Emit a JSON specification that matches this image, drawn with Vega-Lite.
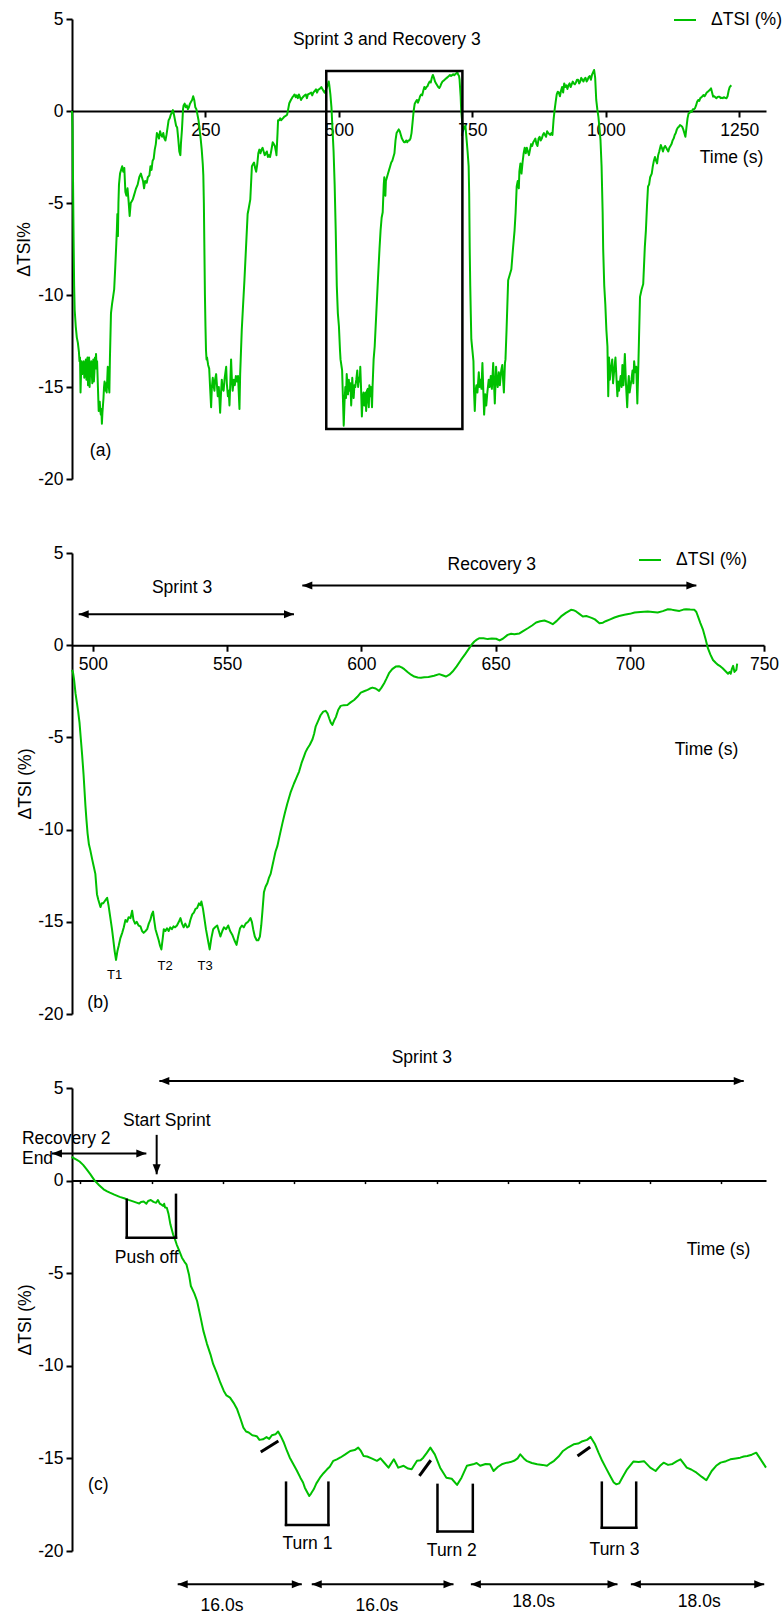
{
"$schema": "https://vega.github.io/schema/vega-lite/v6.json",
"background": "white",
"padding": {"left": 15, "top": 8, "right": 5, "bottom": 5},
"bounds": "flush",
"spacing": 74,
"config": {
  "font": "Liberation Sans",
  "view": {"stroke": null},
  "axis": {"labelFont": "Liberation Sans", "labelFontSize": 17.5, "labelColor": "black", "titleFont": "Liberation Sans", "titleFontSize": 17.5, "titleFontWeight": "normal", "titleColor": "black", "domainColor": "black", "domainWidth": 2, "tickColor": "black", "tickWidth": 2, "tickSize": 6, "labelPadding": 3, "grid": false, "labelOverlap": false, "labelFlush": false},
  "axisX": {"labelPadding": 4},
  "legend": {"labelFont": "Liberation Sans", "labelFontSize": 17.5, "labelColor": "black", "symbolType": "stroke", "symbolSize": 484, "symbolStrokeWidth": 2, "labelOffset": 14, "padding": 0, "labelLimit": 300},
  "text": {"font": "Liberation Sans", "fontSize": 17.5, "fill": "black"}
},
"resolve": {"scale": {"x": "independent", "y": "independent", "color": "independent"}, "legend": {"color": "independent"}},
"datasets": {
"lineA": [
{"t":0,"v":0},{"t":1,"v":-1},{"t":2,"v":-4},{"t":3,"v":-7},{"t":4,"v":-9.5},{"t":5,"v":-10.8},{"t":7,"v":-11.7},{"t":9,"v":-12.3},{"t":11,"v":-12.6},{"t":13,"v":-13.1},{"t":14,"v":-13.6},{"t":15,"v":-13.4},{"t":16,"v":-15.3},{"t":17,"v":-14.2},{"t":18,"v":-13.6},{"t":19,"v":-14.3},{"t":20,"v":-13.8},{"t":21,"v":-14.0},{"t":22,"v":-13.6},{"t":23,"v":-14.5},{"t":24,"v":-13.7},{"t":25,"v":-14.3},{"t":26,"v":-13.5},{"t":27,"v":-14.6},{"t":28,"v":-13.8},{"t":29,"v":-13.4},{"t":30,"v":-14.9},{"t":31,"v":-14.0},{"t":32,"v":-13.4},{"t":33,"v":-15.0},{"t":34,"v":-14.1},{"t":35,"v":-14.4},{"t":36,"v":-13.6},{"t":37,"v":-14.2},{"t":38,"v":-14.8},{"t":39,"v":-13.8},{"t":40,"v":-13.5},{"t":41,"v":-14.7},{"t":42,"v":-14.2},{"t":43,"v":-13.4},{"t":44,"v":-14.0},{"t":45,"v":-13.2},{"t":46,"v":-13.9},{"t":47,"v":-13.6},{"t":48,"v":-14.5},{"t":49,"v":-15.4},{"t":50,"v":-16.3},{"t":51,"v":-15.9},{"t":52,"v":-15.8},{"t":53,"v":-16.3},{"t":54,"v":-16.5},{"t":55,"v":-16.2},{"t":56,"v":-17.0},{"t":57,"v":-16.4},{"t":58,"v":-16.0},{"t":59,"v":-15.6},{"t":60,"v":-15.0},{"t":61,"v":-14.7},{"t":62,"v":-15.0},{"t":63,"v":-15.2},{"t":64,"v":-14.8},{"t":65,"v":-15.3},{"t":66,"v":-14.6},{"t":67,"v":-13.9},{"t":68,"v":-14.5},{"t":69,"v":-15.0},{"t":70,"v":-15.3},
{"t":71,"v":-13.5},{"t":73,"v":-11},{"t":75,"v":-10.5},{"t":77,"v":-10.1},{"t":79,"v":-9.7},{"t":81,"v":-8.5},{"t":83,"v":-7.2},{"t":84,"v":-6.5},{"t":85,"v":-5.6},{"t":86,"v":-6.8},{"t":87,"v":-5.0},{"t":88,"v":-4.0},{"t":90,"v":-3.4},{"t":92,"v":-3.2},{"t":94,"v":-3.0},{"t":96,"v":-3.3},{"t":98,"v":-3.1},{"t":100,"v":-4.4},{"t":102,"v":-4.6},{"t":104,"v":-4.2},{"t":106,"v":-4.9},{"t":108,"v":-5.7},{"t":110,"v":-5.0},{"t":112,"v":-4.9},{"t":114,"v":-4.8},{"t":116,"v":-4.6},{"t":118,"v":-4.4},{"t":120,"v":-4.2},{"t":123,"v":-4.0},{"t":126,"v":-3.6},{"t":129,"v":-3.4},{"t":131,"v":-3.6},{"t":133,"v":-3.8},{"t":135,"v":-4.2},{"t":137,"v":-3.8},{"t":140,"v":-3.9},{"t":142,"v":-3.6},{"t":145,"v":-3.5},{"t":147,"v":-3.0},{"t":149,"v":-3.2},{"t":151,"v":-2.7},{"t":153,"v":-2.6},{"t":155,"v":-2.1},{"t":157,"v":-1.8},{"t":159,"v":-1.2},{"t":161,"v":-1.3},{"t":163,"v":-1.5},{"t":165,"v":-1.1},{"t":167,"v":-1.3},{"t":169,"v":-1.4},{"t":171,"v":-1.2},{"t":173,"v":-1.5},{"t":175,"v":-1.6},{"t":177,"v":-1.3},{"t":179,"v":-0.9},{"t":181,"v":-0.5},{"t":183,"v":-0.4},{"t":185,"v":-0.2},{"t":187,"v":-0.1},{"t":189,"v":0.05},{"t":191,"v":-0.2},{"t":193,"v":-0.5},{"t":195,"v":-0.8},{"t":197,"v":-0.9},{"t":199,"v":-1.5},{"t":201,"v":-2.2},{"t":203,"v":-2.4},{"t":204,"v":-1.8},{"t":206,"v":-1.0},{"t":208,"v":0.1},{"t":209,"v":0.3},{"t":211,"v":0.4},{"t":213,"v":0.2},{"t":215,"v":0.3},{"t":217,"v":0.1},{"t":219,"v":0.2},{"t":221,"v":0.4},{"t":223,"v":0.5},{"t":225,"v":0.6},{"t":227,"v":0.8},{"t":229,"v":0.6},{"t":231,"v":0.2},{"t":233,"v":0.1},{"t":235,"v":-0.2},{"t":237,"v":-0.5},{"t":239,"v":-1.0},{"t":241,"v":-1.5},{"t":243,"v":-2.1},{"t":245,"v":-2.9},{"t":246,"v":-3.5},{"t":247,"v":-5},{"t":248,"v":-7.5},{"t":249,"v":-10},{"t":250,"v":-11.7},{"t":251,"v":-13.0},{"t":252,"v":-13.5},
{"t":253,"v":-13.4},{"t":255,"v":-13.8},{"t":257,"v":-14.0},{"t":259,"v":-15.2},{"t":260.6,"v":-16.1},{"t":262,"v":-15.0},{"t":263.7,"v":-14.5},{"t":265,"v":-14.9},{"t":266.8,"v":-15.2},{"t":268,"v":-14.6},{"t":270,"v":-14.3},{"t":271.5,"v":-14.9},{"t":273,"v":-15.5},{"t":275,"v":-15.0},{"t":277.5,"v":-16.4},{"t":279,"v":-15.4},{"t":280.6,"v":-14.6},{"t":282,"v":-15.1},{"t":284,"v":-15.2},{"t":286,"v":-14.5},{"t":288.8,"v":-13.9},{"t":290,"v":-14.8},{"t":292,"v":-15.5},{"t":293.5,"v":-15.2},{"t":295,"v":-16.0},{"t":296.5,"v":-14.8},{"t":298,"v":-13.5},{"t":299.5,"v":-14.6},{"t":301,"v":-15.2},{"t":303,"v":-14.6},{"t":305,"v":-14.9},{"t":307,"v":-14.4},{"t":309,"v":-14.7},{"t":311,"v":-14.4},{"t":313.7,"v":-16.2},
{"t":315,"v":-14.3},{"t":316,"v":-13.5},{"t":318,"v":-11.9},{"t":320,"v":-10.8},{"t":323,"v":-9.2},{"t":326,"v":-7.4},{"t":329,"v":-5.6},{"t":331,"v":-5.3},{"t":334,"v":-4.8},{"t":336,"v":-3.6},{"t":337,"v":-3.0},{"t":339,"v":-2.9},{"t":341,"v":-2.8},{"t":343,"v":-3.1},{"t":345,"v":-3.3},{"t":347,"v":-2.9},{"t":349,"v":-2.3},{"t":351,"v":-2.1},{"t":353,"v":-2.3},{"t":355,"v":-2.1},{"t":357,"v":-2.0},{"t":359,"v":-2.2},{"t":361,"v":-2.4},{"t":363,"v":-2.3},{"t":365,"v":-2.2},{"t":367,"v":-2.5},{"t":369,"v":-2.4},{"t":371,"v":-2.5},{"t":373,"v":-2.2},{"t":376,"v":-1.7},{"t":378,"v":-1.8},{"t":380,"v":-1.9},{"t":382,"v":-2.2},{"t":383,"v":-2.4},{"t":385,"v":-1.2},{"t":386,"v":-0.5},{"t":388,"v":-0.5},{"t":390,"v":-0.4},{"t":392,"v":-0.5},{"t":395,"v":-0.4},{"t":398,"v":-0.3},{"t":401,"v":-0.25},{"t":403,"v":-0.2},{"t":405,"v":0.1},{"t":407,"v":0.42},{"t":410,"v":0.6},{"t":413,"v":0.75},{"t":415,"v":0.82},{"t":417,"v":0.9},{"t":419,"v":0.75},{"t":421,"v":0.85},{"t":423,"v":0.7},{"t":425,"v":0.9},{"t":427,"v":0.75},{"t":429,"v":0.6},{"t":431,"v":0.7},{"t":434,"v":0.8},{"t":436,"v":0.85},{"t":438,"v":0.9},{"t":440,"v":0.7},{"t":442,"v":0.9},{"t":445,"v":0.95},{"t":448,"v":1.0},{"t":450,"v":0.85},{"t":452,"v":1.0},{"t":455,"v":1.1},{"t":457,"v":1.18},{"t":459,"v":1.0},{"t":461,"v":1.15},{"t":464,"v":1.2},{"t":467,"v":1.3},{"t":469,"v":1.2},{"t":471,"v":1.1},{"t":473,"v":1.0},{"t":475,"v":1.1},{"t":477,"v":1.25},{"t":479,"v":1.4},{"t":481,"v":1.6},{"t":482,"v":1.4},{"t":484,"v":0.9},{"t":486,"v":0.2},{"t":488,"v":-1.0},{"t":490,"v":-2.2},{"t":492,"v":-4.0},{"t":494,"v":-6.5},{"t":496,"v":-9.5},{"t":498,"v":-11.0},{"t":500,"v":-11.7},{"t":502,"v":-13.0},{"t":503,"v":-13.5},
{"t":505,"v":-13.9},{"t":506,"v":-14.1},{"t":507.5,"v":-15.6},{"t":509,"v":-17.1},{"t":510.5,"v":-15.8},{"t":512,"v":-15.0},{"t":513.3,"v":-15.6},{"t":514.6,"v":-14.3},{"t":516,"v":-14.9},{"t":517,"v":-15.4},{"t":518.5,"v":-14.6},{"t":520,"v":-15.2},{"t":521.5,"v":-14.8},{"t":523,"v":-16.0},{"t":525,"v":-14.5},{"t":526.3,"v":-15.2},{"t":527.6,"v":-15.6},{"t":529,"v":-14.9},{"t":530.6,"v":-15.0},{"t":532.5,"v":-14.6},{"t":534.4,"v":-14.1},{"t":536,"v":-15.0},{"t":537.5,"v":-14.5},{"t":539,"v":-14.7},{"t":540,"v":-13.9},{"t":541.5,"v":-15.1},{"t":543,"v":-16.6},{"t":544.5,"v":-15.6},{"t":546,"v":-15.3},{"t":547.5,"v":-16.0},{"t":549,"v":-15.4},{"t":550,"v":-15.3},{"t":551,"v":-16.3},{"t":552.5,"v":-15.2},{"t":554,"v":-15.1},{"t":555,"v":-15.7},{"t":556,"v":-16.1},{"t":557,"v":-14.9},{"t":558.5,"v":-15.5},{"t":560,"v":-15.0},{"t":562,"v":-16.1},
{"t":563,"v":-15.0},{"t":565,"v":-13.5},{"t":567,"v":-12.8},{"t":570,"v":-11.0},{"t":573,"v":-9.2},{"t":576,"v":-7.5},{"t":578,"v":-6.5},{"t":580,"v":-5.8},{"t":582,"v":-5.5},{"t":584,"v":-4.0},{"t":585,"v":-3.6},{"t":586,"v":-4.4},{"t":587,"v":-4.6},{"t":588,"v":-3.8},{"t":590,"v":-3.6},{"t":592,"v":-3.4},{"t":594,"v":-3.2},{"t":596,"v":-3.0},{"t":598,"v":-2.8},{"t":600,"v":-2.7},{"t":602,"v":-2.5},{"t":604,"v":-2.3},{"t":606,"v":-1.6},{"t":608,"v":-1.2},{"t":610,"v":-1.1},{"t":612,"v":-1.0},{"t":614,"v":-1.1},{"t":616,"v":-1.3},{"t":618,"v":-1.5},{"t":620,"v":-1.6},{"t":622,"v":-1.7},{"t":624,"v":-1.7},{"t":626,"v":-1.6},{"t":628,"v":-1.7},{"t":630,"v":-1.6},{"t":632,"v":-1.6},{"t":634,"v":-1.5},{"t":636,"v":-1.2},{"t":638,"v":-0.6},{"t":640,"v":0.0},{"t":642,"v":0.4},{"t":644,"v":0.5},{"t":646,"v":0.6},{"t":648,"v":0.45},{"t":650,"v":0.6},{"t":652,"v":0.8},{"t":654,"v":0.9},{"t":656,"v":0.85},{"t":658,"v":1.1},{"t":660,"v":1.3},{"t":662,"v":1.2},{"t":664,"v":1.3},{"t":666,"v":1.35},{"t":668,"v":1.5},{"t":670,"v":1.6},{"t":672,"v":1.55},{"t":674,"v":1.8},{"t":676,"v":1.96},{"t":678,"v":1.8},{"t":680,"v":1.6},{"t":682,"v":1.5},{"t":684,"v":1.4},{"t":686,"v":1.3},{"t":688,"v":1.25},{"t":690,"v":1.35},{"t":692,"v":1.5},{"t":694,"v":1.6},{"t":696,"v":1.65},{"t":698,"v":1.7},{"t":700,"v":1.75},{"t":702,"v":1.8},{"t":704,"v":1.85},{"t":706,"v":1.9},{"t":708,"v":1.96},{"t":710,"v":1.9},{"t":712,"v":1.95},{"t":714,"v":2.0},{"t":716,"v":1.95},{"t":718,"v":2.0},{"t":720,"v":2.05},{"t":722,"v":2.1},{"t":723,"v":2.0},{"t":725,"v":1.9},{"t":726,"v":1.7},{"t":728,"v":0.8},{"t":729,"v":0.05},{"t":731,"v":-0.6},{"t":733,"v":-1.0},{"t":735,"v":-0.9},{"t":737,"v":-0.8},{"t":739,"v":-1.5},{"t":741,"v":-2.2},{"t":743,"v":-3.0},{"t":744,"v":-4.5},{"t":745,"v":-7.5},{"t":746,"v":-9.5},{"t":747,"v":-11},{"t":748,"v":-12.4},{"t":750,"v":-13.0},{"t":752,"v":-13.6},{"t":753,"v":-15.2},
{"t":754.5,"v":-16.3},{"t":756,"v":-15.2},{"t":757.6,"v":-14.9},{"t":759.5,"v":-15.3},{"t":762,"v":-14.2},{"t":763.5,"v":-15.0},{"t":765,"v":-14.6},{"t":767,"v":-15.1},{"t":768.8,"v":-13.7},{"t":770.5,"v":-15.2},{"t":772,"v":-16.5},{"t":774,"v":-15.4},{"t":776,"v":-16.0},{"t":778,"v":-15.3},{"t":780.6,"v":-14.6},{"t":782.5,"v":-15.0},{"t":784.5,"v":-14.4},{"t":786.5,"v":-15.1},{"t":789,"v":-13.7},{"t":790.5,"v":-14.8},{"t":792,"v":-15.9},{"t":794.4,"v":-13.9},{"t":796,"v":-14.7},{"t":797.5,"v":-15.0},{"t":799.5,"v":-14.2},{"t":801.5,"v":-14.9},{"t":804,"v":-14.1},{"t":806,"v":-13.8},{"t":807.5,"v":-14.6},{"t":809,"v":-15.3},{"t":811,"v":-13.7},
{"t":812,"v":-13.5},{"t":814,"v":-11.9},{"t":817,"v":-9.2},{"t":820,"v":-8.9},{"t":823,"v":-8.6},{"t":826,"v":-7.5},{"t":829,"v":-6.5},{"t":831,"v":-5.5},{"t":833,"v":-4.1},{"t":835,"v":-3.8},{"t":837,"v":-4.2},{"t":838,"v":-3.3},{"t":840,"v":-2.85},{"t":842,"v":-3.4},{"t":844,"v":-2.8},{"t":846,"v":-2.3},{"t":848,"v":-2.0},{"t":850,"v":-2.3},{"t":852,"v":-2.0},{"t":854,"v":-2.2},{"t":856,"v":-2.4},{"t":858,"v":-2.1},{"t":860,"v":-1.8},{"t":862,"v":-1.9},{"t":864,"v":-1.7},{"t":866,"v":-1.6},{"t":868,"v":-1.5},{"t":870,"v":-1.8},{"t":872,"v":-1.9},{"t":874,"v":-1.5},{"t":876,"v":-1.4},{"t":878,"v":-1.6},{"t":880,"v":-1.5},{"t":882,"v":-1.3},{"t":884,"v":-1.2},{"t":886,"v":-1.3},{"t":888,"v":-1.4},{"t":890,"v":-1.1},{"t":892,"v":-1.2},{"t":894,"v":-1.25},{"t":896,"v":-1.3},{"t":898,"v":-1.2},{"t":900,"v":-1.3},{"t":902,"v":-0.5},{"t":904,"v":0.05},{"t":906,"v":0.5},{"t":908,"v":0.9},{"t":910,"v":1.05},{"t":912,"v":1.0},{"t":914,"v":0.8},{"t":916,"v":1.1},{"t":918,"v":1.3},{"t":920,"v":1.0},{"t":922,"v":1.5},{"t":924,"v":1.3},{"t":926,"v":1.4},{"t":928,"v":1.2},{"t":930,"v":1.4},{"t":932,"v":1.5},{"t":934,"v":1.3},{"t":936,"v":1.45},{"t":938,"v":1.6},{"t":940,"v":1.5},{"t":942,"v":1.45},{"t":944,"v":1.55},{"t":946,"v":1.7},{"t":948,"v":1.7},{"t":950,"v":1.5},{"t":952,"v":1.6},{"t":954,"v":1.8},{"t":956,"v":1.7},{"t":958,"v":1.6},{"t":960,"v":1.75},{"t":962,"v":1.8},{"t":964,"v":1.6},{"t":966,"v":1.7},{"t":968,"v":1.85},{"t":970,"v":1.9},{"t":972,"v":1.7},{"t":974,"v":1.96},{"t":976,"v":2.1},{"t":978,"v":2.23},{"t":980,"v":1.8},{"t":982,"v":0.6},{"t":984,"v":0.1},{"t":986,"v":-0.3},{"t":988,"v":-0.9},{"t":990,"v":-1.6},{"t":992,"v":-3.0},{"t":994,"v":-5.5},{"t":995,"v":-7.5},{"t":997,"v":-9.5},{"t":999,"v":-10.5},{"t":1001,"v":-11.9},{"t":1003,"v":-12.8},{"t":1004.5,"v":-15.5},
{"t":1006,"v":-13.4},{"t":1007.5,"v":-14.6},{"t":1009,"v":-14.1},{"t":1012,"v":-13.5},{"t":1013.5,"v":-14.8},{"t":1015,"v":-14.3},{"t":1018,"v":-13.4},{"t":1020,"v":-14.6},{"t":1021.6,"v":-15.5},{"t":1023,"v":-14.7},{"t":1024.7,"v":-15.2},{"t":1026,"v":-14.8},{"t":1027.8,"v":-14.4},{"t":1029.5,"v":-15.0},{"t":1031,"v":-13.8},{"t":1033,"v":-14.9},{"t":1035.6,"v":-13.2},{"t":1037.5,"v":-14.7},{"t":1040,"v":-16.1},{"t":1041.5,"v":-15.0},{"t":1043,"v":-14.4},{"t":1044.5,"v":-15.3},{"t":1046,"v":-15.0},{"t":1048,"v":-14.6},{"t":1050,"v":-14.1},{"t":1051.5,"v":-14.8},{"t":1053,"v":-13.6},{"t":1055,"v":-14.2},{"t":1057,"v":-13.9},{"t":1059,"v":-15.9},{"t":1061,"v":-13.7},
{"t":1062,"v":-12.5},{"t":1064,"v":-10.1},{"t":1067,"v":-9.7},{"t":1070,"v":-9.4},{"t":1073,"v":-7.4},{"t":1075,"v":-6.5},{"t":1077,"v":-5.2},{"t":1079,"v":-4.1},{"t":1081,"v":-4.0},{"t":1083,"v":-3.6},{"t":1086,"v":-3.4},{"t":1088,"v":-3.0},{"t":1090,"v":-2.7},{"t":1092,"v":-2.5},{"t":1094,"v":-2.7},{"t":1096,"v":-2.85},{"t":1098,"v":-2.4},{"t":1100,"v":-2.2},{"t":1103,"v":-1.85},{"t":1105,"v":-2.0},{"t":1107,"v":-2.2},{"t":1109,"v":-2.0},{"t":1111,"v":-1.9},{"t":1113,"v":-2.0},{"t":1115,"v":-2.1},{"t":1117,"v":-2.2},{"t":1119,"v":-2.0},{"t":1121,"v":-1.9},{"t":1123,"v":-1.8},{"t":1125,"v":-1.6},{"t":1127,"v":-1.5},{"t":1129,"v":-1.3},{"t":1131,"v":-1.2},{"t":1133,"v":-1.0},{"t":1135,"v":-0.9},{"t":1137,"v":-0.85},{"t":1139,"v":-0.76},{"t":1141,"v":-0.8},{"t":1143,"v":-0.85},{"t":1145,"v":-1.0},{"t":1147,"v":-1.2},{"t":1149,"v":-1.4},{"t":1151,"v":-0.9},{"t":1153,"v":-0.4},{"t":1155,"v":-0.13},{"t":1157,"v":-0.1},{"t":1159,"v":0.0},{"t":1161,"v":-0.05},{"t":1163,"v":0.1},{"t":1165,"v":0.1},{"t":1167,"v":0.15},{"t":1169,"v":0.3},{"t":1171,"v":0.5},{"t":1173,"v":0.6},{"t":1175,"v":0.55},{"t":1177,"v":0.7},{"t":1179,"v":0.75},{"t":1181,"v":0.8},{"t":1183,"v":0.87},{"t":1185,"v":0.8},{"t":1187,"v":0.9},{"t":1189,"v":1.0},{"t":1191,"v":1.05},{"t":1193,"v":1.1},{"t":1195,"v":1.15},{"t":1197,"v":1.23},{"t":1199,"v":1.0},{"t":1201,"v":0.78},{"t":1203,"v":0.8},{"t":1205,"v":0.75},{"t":1207,"v":0.7},{"t":1209,"v":0.75},{"t":1211,"v":0.78},{"t":1213,"v":0.78},{"t":1215,"v":0.7},{"t":1217,"v":0.72},{"t":1219,"v":0.7},{"t":1221,"v":0.75},{"t":1223,"v":0.72},{"t":1226,"v":0.69},{"t":1228,"v":0.8},{"t":1230,"v":1.1},{"t":1232,"v":1.3},{"t":1235,"v":1.4}
],
"rectA": [{"t":476.3,"t2":731.3,"v":2.17,"v2":-17.28}],
"textA": [{"t":589.7,"v":3.86,"label":"Sprint 3 and Recovery 3"},{"t":53.4,"v":-18.46,"label":"(a)"}],
"lineB": [
{"t":492.2,"v":-1.34},{"t":492.6,"v":-1.5},{"t":493,"v":-1.9},{"t":493.5,"v":-2.6},{"t":494,"v":-3.1},{"t":494.5,"v":-3.6},{"t":495,"v":-4.2},{"t":495.5,"v":-5.1},{"t":496,"v":-6.0},{"t":496.5,"v":-7.0},{"t":497.2,"v":-8.7},{"t":497.6,"v":-9.5},{"t":498,"v":-10.2},{"t":498.5,"v":-10.8},{"t":499,"v":-11.1},{"t":499.7,"v":-11.6},{"t":500.3,"v":-12.0},{"t":500.9,"v":-12.4},{"t":501.5,"v":-13.5},{"t":502,"v":-13.8},{"t":502.8,"v":-14.2},{"t":503.3,"v":-14.0},{"t":503.8,"v":-14.0},{"t":504.3,"v":-13.9},{"t":504.8,"v":-13.8},{"t":505.3,"v":-13.7},{"t":505.8,"v":-14.1},{"t":506.3,"v":-14.6},{"t":507.1,"v":-15.4},{"t":507.6,"v":-16.0},{"t":508.1,"v":-16.6},{"t":508.6,"v":-17.07},{"t":509.1,"v":-16.6},{"t":509.6,"v":-16.3},{"t":510.2,"v":-15.9},{"t":510.9,"v":-15.6},{"t":511.5,"v":-15.3},{"t":512.1,"v":-14.9},{"t":512.7,"v":-15.0},{"t":513.3,"v":-14.75},{"t":514,"v":-14.8},{"t":514.6,"v":-14.4},{"t":515.1,"v":-14.9},{"t":515.7,"v":-15.1},{"t":516.3,"v":-15.0},{"t":517,"v":-15.2},{"t":517.7,"v":-15.25},{"t":518.3,"v":-15.5},{"t":518.9,"v":-15.6},{"t":519.6,"v":-15.5},{"t":520.2,"v":-15.4},{"t":520.8,"v":-15.1},{"t":521.4,"v":-14.9},{"t":521.9,"v":-14.6},{"t":522.4,"v":-14.45},{"t":522.9,"v":-15.0},{"t":523.3,"v":-15.4},{"t":523.9,"v":-15.7},{"t":524.5,"v":-16.0},{"t":525,"v":-16.3},{"t":525.5,"v":-16.5},{"t":526,"v":-15.9},{"t":526.4,"v":-15.4},{"t":527,"v":-15.5},{"t":527.6,"v":-15.35},{"t":528.2,"v":-15.5},{"t":528.8,"v":-15.3},{"t":529.4,"v":-15.4},{"t":530,"v":-15.25},{"t":530.6,"v":-15.3},{"t":531.3,"v":-15.2},{"t":532,"v":-15.0},{"t":532.6,"v":-14.8},{"t":533.2,"v":-15.1},{"t":533.8,"v":-15.3},{"t":534.4,"v":-15.1},{"t":535.1,"v":-15.3},{"t":535.7,"v":-15.25},{"t":536.3,"v":-14.9},{"t":537,"v":-14.6},{"t":537.6,"v":-14.5},{"t":538.2,"v":-14.3},{"t":538.8,"v":-14.26},{"t":539.5,"v":-14.0},{"t":540,"v":-14.1},{"t":540.4,"v":-13.9},{"t":541,"v":-14.3},{"t":541.6,"v":-14.9},{"t":542.1,"v":-15.4},{"t":542.6,"v":-15.8},{"t":543.1,"v":-16.2},{"t":543.5,"v":-16.5},{"t":544.1,"v":-15.9},{"t":544.8,"v":-15.4},{"t":545.5,"v":-15.3},{"t":546.3,"v":-15.2},{"t":546.9,"v":-15.5},{"t":547.5,"v":-15.8},{"t":548.2,"v":-15.5},{"t":548.8,"v":-15.3},{"t":549.6,"v":-15.4},{"t":550.4,"v":-15.2},{"t":551.1,"v":-15.5},{"t":551.9,"v":-15.7},{"t":552.7,"v":-16.0},{"t":553.5,"v":-16.25},{"t":554.1,"v":-15.8},{"t":554.8,"v":-15.35},{"t":555.5,"v":-15.2},{"t":556.2,"v":-15.3},{"t":556.9,"v":-15.1},{"t":557.8,"v":-15.0},{"t":558.7,"v":-14.8},{"t":559.2,"v":-15.0},{"t":559.7,"v":-15.4},{"t":560.3,"v":-15.8},{"t":561,"v":-16.0},{"t":561.6,"v":-16.0},{"t":562.2,"v":-15.8},{"t":562.7,"v":-15.2},{"t":563.1,"v":-14.5},{"t":563.7,"v":-13.4},{"t":564.3,"v":-13.1},{"t":565,"v":-12.9},{"t":565.6,"v":-12.6},{"t":566.2,"v":-12.4},{"t":566.8,"v":-12.0},{"t":567.4,"v":-11.6},{"t":568,"v":-11.2},{"t":568.7,"v":-10.9},{"t":569.6,"v":-10.3},{"t":570.6,"v":-9.65},{"t":571.5,"v":-9.1},{"t":572.4,"v":-8.6},{"t":573.6,"v":-8.0},{"t":574.9,"v":-7.5},{"t":575.8,"v":-7.2},{"t":576.8,"v":-6.85},{"t":577.7,"v":-6.4},{"t":578.6,"v":-6.04},{"t":579.2,"v":-5.8},{"t":579.9,"v":-5.6},{"t":580.8,"v":-5.4},{"t":581.8,"v":-5.1},{"t":582.4,"v":-4.8},{"t":583,"v":-4.4},{"t":583.9,"v":-4.1},{"t":584.8,"v":-3.8},{"t":585.8,"v":-3.6},{"t":586.7,"v":-3.56},{"t":587.4,"v":-3.7},{"t":588,"v":-3.96},{"t":588.6,"v":-4.2},{"t":589.2,"v":-4.32},{"t":589.8,"v":-4.1},{"t":590.5,"v":-3.9},{"t":591.4,"v":-3.5},{"t":592.3,"v":-3.29},{"t":593.5,"v":-3.25},{"t":594.8,"v":-3.24},{"t":596,"v":-3.1},{"t":597.3,"v":-2.97},{"t":598.5,"v":-2.8},{"t":599.8,"v":-2.57},{"t":601,"v":-2.5},{"t":602.3,"v":-2.42},{"t":603.2,"v":-2.35},{"t":604.1,"v":-2.3},{"t":605.3,"v":-2.35},{"t":606.6,"v":-2.48},{"t":607.5,"v":-2.3},{"t":608.5,"v":-2.06},{"t":609.4,"v":-1.8},{"t":610.3,"v":-1.52},{"t":611.5,"v":-1.3},{"t":612.8,"v":-1.16},{"t":614,"v":-1.14},{"t":615,"v":-1.2},{"t":616,"v":-1.3},{"t":617.2,"v":-1.45},{"t":618.5,"v":-1.6},{"t":619.7,"v":-1.7},{"t":621,"v":-1.75},{"t":622.2,"v":-1.76},{"t":623.4,"v":-1.74},{"t":625,"v":-1.72},{"t":627.1,"v":-1.66},{"t":629,"v":-1.57},{"t":630.2,"v":-1.63},{"t":631.5,"v":-1.7},{"t":632.8,"v":-1.6},{"t":634,"v":-1.43},{"t":635.5,"v":-1.15},{"t":637.1,"v":-0.8},{"t":638.6,"v":-0.5},{"t":640.2,"v":-0.16},{"t":641.2,"v":0.05},{"t":642.1,"v":0.2},{"t":643,"v":0.3},{"t":644,"v":0.38},{"t":645.5,"v":0.38},{"t":647.1,"v":0.33},{"t":648.6,"v":0.36},{"t":650.2,"v":0.35},{"t":651.5,"v":0.26},{"t":652.7,"v":0.35},{"t":654.5,"v":0.56},{"t":655.8,"v":0.62},{"t":657,"v":0.6},{"t":658.9,"v":0.64},{"t":660.4,"v":0.78},{"t":662,"v":0.92},{"t":663.6,"v":1.07},{"t":665.1,"v":1.23},{"t":666.6,"v":1.3},{"t":668.2,"v":1.34},{"t":669.8,"v":1.25},{"t":671.3,"v":1.14},{"t":672.8,"v":1.32},{"t":674.4,"v":1.56},{"t":676.2,"v":1.75},{"t":678.1,"v":1.92},{"t":679,"v":1.9},{"t":680,"v":1.83},{"t":681.2,"v":1.7},{"t":682.5,"v":1.56},{"t":683.8,"v":1.58},{"t":685,"v":1.52},{"t":686,"v":1.47},{"t":687,"v":1.4},{"t":688.7,"v":1.19},{"t":690,"v":1.22},{"t":691,"v":1.3},{"t":692.7,"v":1.4},{"t":694.3,"v":1.5},{"t":696,"v":1.58},{"t":698,"v":1.65},{"t":700,"v":1.7},{"t":701.8,"v":1.77},{"t":704,"v":1.8},{"t":706.7,"v":1.83},{"t":708.5,"v":1.8},{"t":710.4,"v":1.77},{"t":712.3,"v":1.85},{"t":714.2,"v":1.95},{"t":715.5,"v":1.93},{"t":716.7,"v":1.9},{"t":718.5,"v":1.86},{"t":720,"v":1.93},{"t":721,"v":1.95},{"t":722.5,"v":1.93},{"t":724.1,"v":1.92},{"t":724.8,"v":1.8},{"t":725.4,"v":1.56},{"t":726.3,"v":1.2},{"t":727.3,"v":0.83},{"t":728.2,"v":0.35},{"t":729.1,"v":-0.16},{"t":730,"v":-0.5},{"t":731,"v":-0.8},{"t":732,"v":-0.95},{"t":732.9,"v":-1.07},{"t":733.8,"v":-1.15},{"t":734.6,"v":-1.25},{"t":735.6,"v":-1.4},{"t":736.6,"v":-1.55},{"t":737.2,"v":-1.45},{"t":737.6,"v":-1.55},{"t":738,"v":-1.3},{"t":738.5,"v":-1.12},{"t":739,"v":-1.45},{"t":739.7,"v":-1.34},{"t":740,"v":-1.0}
],
"textB": [{"t":533.2,"v":3.09,"label":"Sprint 3"},{"t":648.6,"v":4.35,"label":"Recovery 3"},{"t":501.9,"v":-19.41,"label":"(b)"}],
"smallB": [{"t":508.05,"v":-17.88,"label":"T1"},{"t":526.9,"v":-17.37,"label":"T2"},{"t":541.8,"v":-17.37,"label":"T3"}],
"arrowsB": [{"t":494.7,"t2":574.9,"v":1.68},{"t":578.0,"t2":724.8,"v":3.24}],
"lineC": [
{"t":482.0,"v":1.28},{"t":482.3,"v":1.2},{"t":482.6,"v":1.12},{"t":482.9,"v":1.03},{"t":483.3,"v":0.85},{"t":483.7,"v":0.61},{"t":484.1,"v":0.35},{"t":484.6,"v":0.0},{"t":485.1,"v":-0.25},{"t":485.6,"v":-0.47},{"t":486.0,"v":-0.58},{"t":486.3,"v":-0.65},{"t":486.8,"v":-0.76},{"t":487.4,"v":-0.88},{"t":487.9,"v":-0.95},{"t":488.4,"v":-1.04},{"t":488.9,"v":-1.12},{"t":489.3,"v":-1.19},{"t":489.6,"v":-1.24},{"t":489.8,"v":-1.15},{"t":490.1,"v":-1.13},{"t":490.4,"v":-1.25},{"t":490.6,"v":-1.1},{"t":490.9,"v":-1.05},{"t":491.2,"v":-1.15},{"t":491.5,"v":-1.2},{"t":491.7,"v":-1.05},{"t":491.9,"v":-1.24},{"t":492.1,"v":-1.3},{"t":492.3,"v":-1.37},{"t":492.4,"v":-1.25},{"t":492.5,"v":-1.45},{"t":492.7,"v":-1.46},{"t":492.9,"v":-1.82},{"t":493.1,"v":-2.36},{"t":493.4,"v":-2.9},{"t":493.6,"v":-3.15},{"t":493.8,"v":-3.44},{"t":494.1,"v":-3.8},{"t":494.4,"v":-4.16},{"t":494.7,"v":-4.4},{"t":494.9,"v":-4.52},{"t":495.2,"v":-5.1},{"t":495.4,"v":-5.69},{"t":495.8,"v":-6.1},{"t":496.1,"v":-6.5},{"t":496.5,"v":-7.4},{"t":496.8,"v":-8.1},{"t":497.2,"v":-8.8},{"t":497.6,"v":-9.38},{"t":497.9,"v":-9.9},{"t":498.3,"v":-10.37},{"t":498.7,"v":-10.9},{"t":499.1,"v":-11.36},{"t":499.4,"v":-11.6},{"t":499.8,"v":-11.72},{"t":500.2,"v":-12.0},{"t":500.6,"v":-12.35},{"t":501.0,"v":-12.9},{"t":501.3,"v":-13.34},{"t":501.6,"v":-13.55},{"t":501.9,"v":-13.6},{"t":502.3,"v":-13.75},{"t":502.8,"v":-13.8},{"t":503.1,"v":-14.0},{"t":503.5,"v":-13.97},{"t":503.9,"v":-13.85},{"t":504.2,"v":-13.95},{"t":504.5,"v":-13.75},{"t":504.9,"v":-13.7},{"t":505.2,"v":-13.55},{"t":505.5,"v":-13.8},{"t":505.8,"v":-14.1},{"t":506.2,"v":-14.6},{"t":506.5,"v":-14.95},{"t":506.9,"v":-15.3},{"t":507.3,"v":-15.65},{"t":507.7,"v":-16.04},{"t":508.0,"v":-16.3},{"t":508.2,"v":-16.58},{"t":508.5,"v":-16.85},{"t":508.7,"v":-17.03},{"t":508.9,"v":-16.9},{"t":509.2,"v":-16.67},{"t":509.5,"v":-16.35},{"t":509.9,"v":-16.04},{"t":510.3,"v":-15.8},{"t":510.7,"v":-15.59},{"t":511.0,"v":-15.45},{"t":511.4,"v":-15.13},{"t":511.8,"v":-15.05},{"t":512.2,"v":-14.95},{"t":512.7,"v":-14.8},{"t":513.3,"v":-14.6},{"t":513.8,"v":-14.55},{"t":514.2,"v":-14.42},{"t":514.5,"v":-14.6},{"t":514.8,"v":-14.87},{"t":515.2,"v":-14.9},{"t":515.7,"v":-15.0},{"t":516.3,"v":-15.13},{"t":516.7,"v":-15.0},{"t":517.1,"v":-15.22},{"t":517.6,"v":-15.5},{"t":518.2,"v":-15.05},{"t":518.7,"v":-15.5},{"t":519.3,"v":-15.4},{"t":519.8,"v":-15.55},{"t":520.2,"v":-15.59},{"t":520.8,"v":-15.13},{"t":521.2,"v":-15.1},{"t":521.5,"v":-14.96},{"t":521.9,"v":-14.7},{"t":522.3,"v":-14.42},{"t":522.8,"v":-14.78},{"t":523.4,"v":-15.5},{"t":524.1,"v":-16.04},{"t":524.7,"v":-16.1},{"t":525.3,"v":-16.43},{"t":525.8,"v":-16.04},{"t":526.4,"v":-15.4},{"t":527.1,"v":-15.32},{"t":527.5,"v":-15.25},{"t":527.9,"v":-15.4},{"t":528.5,"v":-15.3},{"t":529.0,"v":-15.32},{"t":529.4,"v":-15.68},{"t":529.9,"v":-15.45},{"t":530.4,"v":-15.3},{"t":530.9,"v":-15.23},{"t":531.3,"v":-15.2},{"t":531.7,"v":-15.13},{"t":532.1,"v":-15.0},{"t":532.4,"v":-14.78},{"t":532.8,"v":-15.0},{"t":533.1,"v":-15.13},{"t":533.7,"v":-15.25},{"t":534.3,"v":-15.32},{"t":534.9,"v":-15.35},{"t":535.4,"v":-15.4},{"t":535.8,"v":-15.25},{"t":536.2,"v":-15.13},{"t":536.7,"v":-14.9},{"t":537.2,"v":-14.6},{"t":537.8,"v":-14.4},{"t":538.4,"v":-14.24},{"t":538.9,"v":-14.2},{"t":539.3,"v":-14.09},{"t":539.9,"v":-14.0},{"t":540.3,"v":-13.84},{"t":540.8,"v":-14.24},{"t":541.2,"v":-14.7},{"t":541.6,"v":-15.13},{"t":542.0,"v":-15.5},{"t":542.5,"v":-15.95},{"t":542.9,"v":-16.3},{"t":543.2,"v":-16.4},{"t":543.5,"v":-16.35},{"t":543.9,"v":-16.0},{"t":544.4,"v":-15.59},{"t":545.1,"v":-15.17},{"t":545.7,"v":-15.2},{"t":546.3,"v":-15.15},{"t":547.0,"v":-15.5},{"t":547.6,"v":-15.68},{"t":548.1,"v":-15.4},{"t":548.5,"v":-15.23},{"t":549.0,"v":-15.35},{"t":549.5,"v":-15.3},{"t":550.0,"v":-15.15},{"t":550.4,"v":-15.05},{"t":551.1,"v":-15.5},{"t":551.6,"v":-15.6},{"t":552.2,"v":-15.77},{"t":552.8,"v":-16.0},{"t":553.3,"v":-16.18},{"t":553.9,"v":-15.68},{"t":554.4,"v":-15.4},{"t":554.9,"v":-15.23},{"t":555.5,"v":-15.15},{"t":556.0,"v":-15.05},{"t":556.6,"v":-15.0},{"t":557.1,"v":-14.96},{"t":557.5,"v":-14.9},{"t":557.9,"v":-14.87},{"t":558.4,"v":-14.8},{"t":558.9,"v":-14.69},{"t":559.4,"v":-15.05},{"t":560.0,"v":-15.5}
],
"textC": [{"t":521.34,"v":6.64,"label":"Sprint 3"},{"t":492.7,"v":3.24,"label":"Start Sprint"},{"t":490.44,"v":-4.19,"label":"Push off"},{"t":485.0,"v":-16.43,"label":"(c)"},{"t":508.49,"v":-19.64,"label":"Turn 1"},{"t":524.71,"v":-20.0,"label":"Turn 2"},{"t":542.99,"v":-19.94,"label":"Turn 3"},{"t":498.9,"v":-22.97,"label":"16.0s"},{"t":516.3,"v":-22.97,"label":"16.0s"},{"t":533.9,"v":-22.73,"label":"18.0s"},{"t":552.5,"v":-22.73,"label":"18.0s"}],
"textCleft": [{"t":476.43,"v":2.27,"label":"Recovery 2"},{"t":476.43,"v":1.15,"label":"End"}],
"arrowsC": [{"t":491.86,"t2":557.5,"v":5.38},{"t":479.8,"t2":490.4,"v":1.47},{"t":493.92,"t2":507.86,"v":-21.8},{"t":508.98,"t2":524.9,"v":-21.8},{"t":526.85,"t2":543.32,"v":-21.8},{"t":544.82,"t2":559.8,"v":-21.8}],
"downC": [{"t":491.56,"v":2.47,"v2":0.34}],
"bracketsC": [
{"t":488.2,"v":-1.04,"t2":488.2,"v2":-3.08},{"t":488.2,"v":-3.08,"t2":493.73,"v2":-3.08},{"t":493.73,"v":-3.08,"t2":493.73,"v2":-0.77},
{"t":506.09,"v":-16.31,"t2":506.09,"v2":-18.59},{"t":506.09,"v":-18.59,"t2":510.85,"v2":-18.59},{"t":510.85,"v":-18.59,"t2":510.85,"v2":-16.31},
{"t":523.1,"v":-16.43,"t2":523.1,"v2":-18.95},{"t":523.1,"v":-18.95,"t2":527.07,"v2":-18.95},{"t":527.07,"v":-18.95,"t2":527.07,"v2":-16.43},
{"t":541.56,"v":-16.31,"t2":541.56,"v2":-18.74},{"t":541.56,"v":-18.74,"t2":545.42,"v2":-18.74},{"t":545.42,"v":-18.74,"t2":545.42,"v2":-16.31}
],
"slashC": [{"t":503.25,"v":-14.65,"t2":505.23,"v2":-14.06},{"t":521.07,"v":-15.95,"t2":522.35,"v2":-15.1},{"t":538.83,"v":-14.87,"t2":540.25,"v2":-14.38}]
},
"vconcat": [
{
  "width": 694, "height": 460,
  "layer": [
    {"data": {"name": "lineA"}, "mark": {"type": "line", "strokeWidth": 2, "strokeJoin": "round"},
     "encoding": {
       "x": {"field": "t", "type": "quantitative", "scale": {"domain": [0, 1300], "nice": false, "zero": false},
             "axis": {"orient": "bottom", "offset": -368, "values": [250, 500, 750, 1000, 1250], "title": "Time (s)", "titleX": 659, "titleY": 46, "titleAlign": "center", "titleBaseline": "middle", "titleFontSize": 17.5, "titleFontWeight": "normal", "labelExpr": "'' + datum.value"}},
       "y": {"field": "v", "type": "quantitative", "scale": {"domain": [-20, 5], "nice": false, "zero": false},
             "axis": {"values": [-20, -15, -10, -5, 0, 5], "title": "ΔTSI%", "titleX": -48, "titleY": 230, "titleAlign": "center", "titleBaseline": "middle", "titleAngle": 270, "titleFontSize": 17.5, "titleFontWeight": "normal", "labelExpr": "'' + datum.value"}},
       "color": {"datum": "ΔTSI (%)", "type": "nominal", "scale": {"range": ["#00c000"]}, "legend": {"orient": "none", "legendX": 601, "legendY": -11, "title": null}}
     }},
    {"data": {"name": "rectA"}, "mark": {"type": "rect", "fill": "transparent", "stroke": "black", "strokeWidth": 2.5},
     "encoding": {
       "x": {"field": "t", "type": "quantitative", "scale": {"domain": [0, 1300], "nice": false, "zero": false}},
       "x2": {"field": "t2"},
       "y": {"field": "v", "type": "quantitative", "scale": {"domain": [-20, 5], "nice": false, "zero": false}},
       "y2": {"field": "v2"}
     }},
    {"data": {"name": "textA"}, "mark": {"type": "text", "fontSize": 17.5, "fill": "black"},
     "encoding": {
       "x": {"field": "t", "type": "quantitative", "scale": {"domain": [0, 1300], "nice": false, "zero": false}},
       "y": {"field": "v", "type": "quantitative", "scale": {"domain": [-20, 5], "nice": false, "zero": false}},
       "text": {"field": "label"}
     }}
  ]
},
{
  "width": 692, "height": 461,
  "layer": [
    {"data": {"name": "lineB"}, "mark": {"type": "line", "strokeWidth": 2, "strokeJoin": "round"},
     "encoding": {
       "x": {"field": "t", "type": "quantitative", "scale": {"domain": [492.2, 750], "nice": false, "zero": false},
             "axis": {"orient": "bottom", "offset": -368.8, "values": [500, 550, 600, 650, 700, 750], "title": "Time (s)", "titleX": 634, "titleY": 104, "titleAlign": "center", "titleBaseline": "middle", "titleFontSize": 17.5, "titleFontWeight": "normal", "labelExpr": "'' + datum.value"}},
       "y": {"field": "v", "type": "quantitative", "scale": {"domain": [-20, 5], "nice": false, "zero": false},
             "axis": {"values": [-20, -15, -10, -5, 0, 5], "title": "ΔTSI (%)", "titleX": -47, "titleY": 230.5, "titleAlign": "center", "titleBaseline": "middle", "titleAngle": 270, "titleFontSize": 17.5, "titleFontWeight": "normal", "labelExpr": "'' + datum.value"}},
       "color": {"datum": "ΔTSI (%)", "type": "nominal", "scale": {"range": ["#00c000"]}, "legend": {"orient": "none", "legendX": 566, "legendY": -5, "title": null}}
     }},
    {"data": {"name": "arrowsB"}, "mark": {"type": "rule", "strokeWidth": 2, "color": "black"},
     "encoding": {
       "x": {"field": "t", "type": "quantitative", "scale": {"domain": [492.2, 750], "nice": false, "zero": false}},
       "x2": {"field": "t2"},
       "y": {"field": "v", "type": "quantitative", "scale": {"domain": [-20, 5], "nice": false, "zero": false}}
     }},
    {"data": {"name": "arrowsB"}, "mark": {"type": "point", "shape": "M0,0L2,-0.8L2,0.8Z", "size": 100, "filled": true, "color": "black", "opacity": 1, "strokeWidth": 0},
     "encoding": {
       "x": {"field": "t", "type": "quantitative", "scale": {"domain": [492.2, 750], "nice": false, "zero": false}},
       "y": {"field": "v", "type": "quantitative", "scale": {"domain": [-20, 5], "nice": false, "zero": false}}
     }},
    {"data": {"name": "arrowsB"}, "mark": {"type": "point", "shape": "M0,0L-2,-0.8L-2,0.8Z", "size": 100, "filled": true, "color": "black", "opacity": 1, "strokeWidth": 0},
     "encoding": {
       "x": {"field": "t2", "type": "quantitative", "scale": {"domain": [492.2, 750], "nice": false, "zero": false}},
       "y": {"field": "v", "type": "quantitative", "scale": {"domain": [-20, 5], "nice": false, "zero": false}}
     }},
    {"data": {"name": "textB"}, "mark": {"type": "text", "fontSize": 17.5, "fill": "black"},
     "encoding": {
       "x": {"field": "t", "type": "quantitative", "scale": {"domain": [492.2, 750], "nice": false, "zero": false}},
       "y": {"field": "v", "type": "quantitative", "scale": {"domain": [-20, 5], "nice": false, "zero": false}},
       "text": {"field": "label"}
     }},
    {"data": {"name": "smallB"}, "mark": {"type": "text", "fontSize": 13, "fill": "black"},
     "encoding": {
       "x": {"field": "t", "type": "quantitative", "scale": {"domain": [492.2, 750], "nice": false, "zero": false}},
       "y": {"field": "v", "type": "quantitative", "scale": {"domain": [-20, 5], "nice": false, "zero": false}},
       "text": {"field": "label"}
     }}
  ]
},
{
  "width": 694, "height": 463,
  "layer": [
    {"data": {"name": "lineC"}, "mark": {"type": "line", "strokeWidth": 2, "strokeJoin": "round", "color": "#00c000"},
     "encoding": {
       "x": {"field": "t", "type": "quantitative", "scale": {"domain": [482.05, 560], "nice": false, "zero": false},
             "axis": {"orient": "bottom", "offset": -370.4, "values": [483,484,485,486,487,488,489,490,491,492,493,494,495,496,497,498,499,500,501,502,503,504,505,506,507,508,509,510,511,512,513,514,515,516,517,518,519,520,521,522,523,524,525,526,527,528,529,530,531,532,533,534,535,536,537,538,539,540,541,542,543,544,545,546,547,548,549,550,551,552,553,554,555,556,557,558,559,560],
                      "title": "Time (s)", "titleX": 646, "titleY": 69, "titleAlign": "center", "titleBaseline": "middle", "titleFontSize": 17.5, "titleFontWeight": "normal",
                      "labelExpr": "datum.value % 10 === 0 ? '' + datum.value : ''",
                      "tickSize": {"condition": {"test": "datum.value % 10 === 0", "value": 6}, "value": 3},
                      "tickWidth": {"condition": {"test": "datum.value % 10 === 0", "value": 2}, "value": 1.5}}},
       "y": {"field": "v", "type": "quantitative", "scale": {"domain": [-20, 5], "nice": false, "zero": false},
             "axis": {"values": [-20, -15, -10, -5, 0, 5], "title": "ΔTSI (%)", "titleX": -47, "titleY": 231.5, "titleAlign": "center", "titleBaseline": "middle", "titleAngle": 270, "titleFontSize": 17.5, "titleFontWeight": "normal", "labelExpr": "'' + datum.value"}}
     }},
    {"data": {"name": "arrowsC"}, "mark": {"type": "rule", "strokeWidth": 2, "color": "black"},
     "encoding": {
       "x": {"field": "t", "type": "quantitative", "scale": {"domain": [482.05, 560], "nice": false, "zero": false}},
       "x2": {"field": "t2"},
       "y": {"field": "v", "type": "quantitative", "scale": {"domain": [-20, 5], "nice": false, "zero": false}}
     }},
    {"data": {"name": "arrowsC"}, "mark": {"type": "point", "shape": "M0,0L2,-0.8L2,0.8Z", "size": 100, "filled": true, "color": "black", "opacity": 1, "strokeWidth": 0},
     "encoding": {
       "x": {"field": "t", "type": "quantitative", "scale": {"domain": [482.05, 560], "nice": false, "zero": false}},
       "y": {"field": "v", "type": "quantitative", "scale": {"domain": [-20, 5], "nice": false, "zero": false}}
     }},
    {"data": {"name": "arrowsC"}, "mark": {"type": "point", "shape": "M0,0L-2,-0.8L-2,0.8Z", "size": 100, "filled": true, "color": "black", "opacity": 1, "strokeWidth": 0},
     "encoding": {
       "x": {"field": "t2", "type": "quantitative", "scale": {"domain": [482.05, 560], "nice": false, "zero": false}},
       "y": {"field": "v", "type": "quantitative", "scale": {"domain": [-20, 5], "nice": false, "zero": false}}
     }},
    {"data": {"name": "downC"}, "mark": {"type": "rule", "strokeWidth": 2, "color": "black"},
     "encoding": {
       "x": {"field": "t", "type": "quantitative", "scale": {"domain": [482.05, 560], "nice": false, "zero": false}},
       "y": {"field": "v", "type": "quantitative", "scale": {"domain": [-20, 5], "nice": false, "zero": false}},
       "y2": {"field": "v2"}
     }},
    {"data": {"name": "downC"}, "mark": {"type": "point", "shape": "M0,0L-0.8,-2L0.8,-2Z", "size": 100, "filled": true, "color": "black", "opacity": 1, "strokeWidth": 0},
     "encoding": {
       "x": {"field": "t", "type": "quantitative", "scale": {"domain": [482.05, 560], "nice": false, "zero": false}},
       "y": {"field": "v2", "type": "quantitative", "scale": {"domain": [-20, 5], "nice": false, "zero": false}}
     }},
    {"data": {"name": "bracketsC"}, "mark": {"type": "rule", "strokeWidth": 2.5, "color": "black", "strokeCap": "square"},
     "encoding": {
       "x": {"field": "t", "type": "quantitative", "scale": {"domain": [482.05, 560], "nice": false, "zero": false}},
       "x2": {"field": "t2"},
       "y": {"field": "v", "type": "quantitative", "scale": {"domain": [-20, 5], "nice": false, "zero": false}},
       "y2": {"field": "v2"}
     }},
    {"data": {"name": "slashC"}, "mark": {"type": "rule", "strokeWidth": 3, "color": "black"},
     "encoding": {
       "x": {"field": "t", "type": "quantitative", "scale": {"domain": [482.05, 560], "nice": false, "zero": false}},
       "x2": {"field": "t2"},
       "y": {"field": "v", "type": "quantitative", "scale": {"domain": [-20, 5], "nice": false, "zero": false}},
       "y2": {"field": "v2"}
     }},
    {"data": {"name": "textC"}, "mark": {"type": "text", "fontSize": 17.5, "fill": "black"},
     "encoding": {
       "x": {"field": "t", "type": "quantitative", "scale": {"domain": [482.05, 560], "nice": false, "zero": false}},
       "y": {"field": "v", "type": "quantitative", "scale": {"domain": [-20, 5], "nice": false, "zero": false}},
       "text": {"field": "label"}
     }},
    {"data": {"name": "textCleft"}, "mark": {"type": "text", "fontSize": 17.5, "fill": "black", "align": "left"},
     "encoding": {
       "x": {"field": "t", "type": "quantitative", "scale": {"domain": [482.05, 560], "nice": false, "zero": false}},
       "y": {"field": "v", "type": "quantitative", "scale": {"domain": [-20, 5], "nice": false, "zero": false}},
       "text": {"field": "label"}
     }}
  ]
}
]
}
